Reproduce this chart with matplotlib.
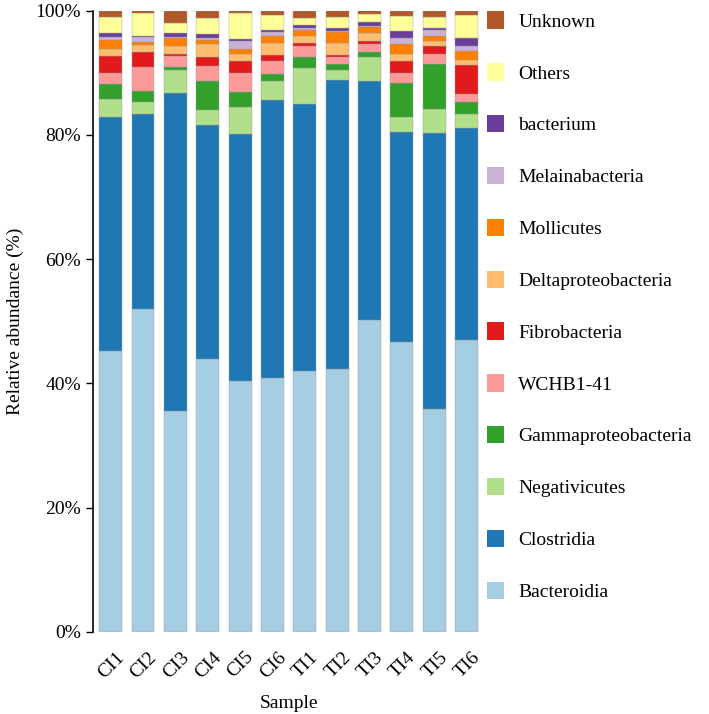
import matplotlib
matplotlib.use("Agg")
import matplotlib.pyplot as plt
from matplotlib.patches import Patch
from matplotlib.transforms import ScaledTranslation
import numpy as np

samples = ["CI1", "CI2", "CI3", "CI4", "CI5", "CI6", "TI1", "TI2", "TI3", "TI4", "TI5", "TI6"]
taxa = ["Bacteroidia", "Clostridia", "Negativicutes", "Gammaproteobacteria", "WCHB1-41",
        "Fibrobacteria", "Deltaproteobacteria", "Mollicutes", "Melainabacteria",
        "bacterium", "Others", "Unknown"]

bacteroidia = [45.2, 51.9, 35.6, 43.9, 40.4, 40.9, 42.0, 42.4, 50.2, 46.6, 35.9, 47.0]
clostridia = [37.74, 31.43, 51.1, 37.7, 39.75, 44.7, 43.0, 46.45, 38.5, 33.9, 44.47, 34.07]
negativicutes = [2.85, 1.93, 3.7, 2.41, 4.3, 3.06, 5.84, 1.61, 3.91, 2.32, 3.81, 2.25]
gammaproteobacteria = [2.46, 1.82, 0.48, 4.67, 2.51, 1.08, 1.77, 0.92, 0.71, 5.47, 7.19, 1.93]
wchb1_41 = [1.77, 3.81, 1.87, 2.41, 3.06, 2.14, 1.77, 1.22, 1.34, 1.71, 1.61, 1.29]
fibrobacteria = [2.74, 2.41, 0.23, 1.5, 1.88, 0.97, 0.39, 0.27, 0.48, 1.93, 1.34, 4.72]
deltaproteobacteria = [1.08, 1.17, 1.34, 2.0, 1.13, 1.88, 1.22, 1.98, 1.24, 1.03, 0.8, 0.8]
mollicutes = [1.45, 0.53, 1.24, 0.69, 0.76, 1.22, 0.92, 1.77, 1.06, 1.61, 0.85, 1.45]
melainabacteria = [0.43, 0.8, 0.16, 0.27, 1.38, 0.55, 0.37, 0.1, 0.1, 0.97, 0.92, 0.8]
bacterium = [0.64, 0.1, 0.64, 0.64, 0.23, 0.37, 0.43, 0.43, 0.71, 1.17, 0.37, 1.24]
others = [2.58, 3.77, 1.61, 2.67, 4.18, 2.41, 1.17, 1.82, 1.17, 2.46, 1.77, 3.75]
unknown = [1.06, 0.42, 2.03, 1.13, 0.42, 0.69, 1.13, 1.13, 0.69, 0.8, 0.97, 0.69]

series = [bacteroidia, clostridia, negativicutes, gammaproteobacteria, wchb1_41,
          fibrobacteria, deltaproteobacteria, mollicutes, melainabacteria,
          bacterium, others, unknown]
colors = ["#a6cee3", "#1f78b4", "#b2df8a", "#33a02c", "#fb9a99", "#e31a1c",
          "#fdbf6f", "#ff7f00", "#cab2d6", "#6a3d9a", "#ffff99", "#b15928"]

plt.rcParams["font.family"] = ["Liberation Serif", "DejaVu Serif"]

fig = plt.figure(figsize=(7.09, 7.14), dpi=100)
ax = fig.add_axes([0.131, 0.115, 0.552, 0.870])

x = np.arange(len(samples))
bottom = np.zeros(len(samples))
for vals, col, name in zip(series, colors, taxa):
    v = np.array(vals, dtype=float)
    ax.bar(x, v, bottom=bottom, width=0.71, color=col, edgecolor="#9a9a9a",
           linewidth=0.3, label=name)
    bottom += v

ax.set_xlim(-0.55, len(samples) - 0.45)
ax.set_ylim(0, 100)
ax.set_yticks([0, 20, 40, 60, 80, 100])
ax.set_yticklabels(["0%", "20%", "40%", "60%", "80%", "100%"], fontsize=14)
ax.set_xticks(x)
ax.set_xticklabels(samples, rotation=45, ha="right", rotation_mode="anchor", fontsize=14)
ax.tick_params(axis="x", length=0, pad=12)
offset = ScaledTranslation(0.05, 0, fig.dpi_scale_trans)
for lab in ax.get_xticklabels():
    lab.set_transform(lab.get_transform() + offset)
ax.tick_params(axis="y", length=5, width=1)
for s in ["top", "right", "bottom"]:
    ax.spines[s].set_visible(False)
ax.spines["left"].set_linewidth(1.2)
ax.set_ylabel("Relative abundance (%)", fontsize=14, labelpad=8)
ax.set_xlabel("Sample", fontsize=14, labelpad=10)

handles = [Patch(facecolor=c, edgecolor="none") for c in colors][::-1]
fig.legend(handles, taxa[::-1], loc="upper left", bbox_to_anchor=(0.676, 0.995),
           frameon=False, fontsize=14, handlelength=0.85, handleheight=1.0,
           handletextpad=0.75, labelspacing=1.67, borderaxespad=0)

fig.savefig("out.png", dpi=100)
